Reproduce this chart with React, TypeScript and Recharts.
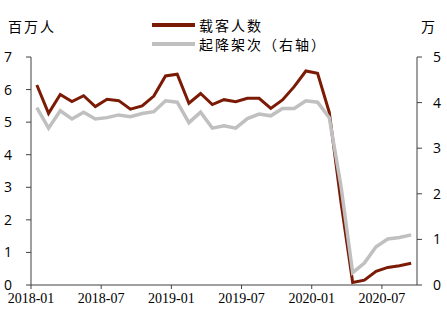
import { LineChart, Line, XAxis, YAxis } from "recharts";

// monthly, 2018-01 .. 2020-09
const months = [
  "2018-01", "2018-02", "2018-03", "2018-04", "2018-05", "2018-06",
  "2018-07", "2018-08", "2018-09", "2018-10", "2018-11", "2018-12",
  "2019-01", "2019-02", "2019-03", "2019-04", "2019-05", "2019-06",
  "2019-07", "2019-08", "2019-09", "2019-10", "2019-11", "2019-12",
  "2020-01", "2020-02", "2020-03", "2020-04", "2020-05", "2020-06",
  "2020-07", "2020-08", "2020-09",
];

// 载客人数, 百万人 (left axis)
const passengers = [
  6.14, 5.27, 5.85, 5.63, 5.81, 5.48, 5.70, 5.66, 5.40, 5.50, 5.80, 6.42,
  6.47, 5.58, 5.88, 5.54, 5.69, 5.63, 5.73, 5.73, 5.42, 5.68, 6.09, 6.57,
  6.50, 5.30, 2.55, 0.08, 0.15, 0.42, 0.54, 0.59, 0.67,
];

// 起降架次, 万 (right axis)
const flights = [
  3.89, 3.44, 3.82, 3.64, 3.79, 3.64, 3.67, 3.73, 3.69, 3.76, 3.80, 4.04,
  4.01, 3.56, 3.79, 3.44, 3.49, 3.44, 3.65, 3.75, 3.71, 3.87, 3.87, 4.04,
  4.01, 3.67, 2.17, 0.27, 0.48, 0.84, 1.01, 1.04, 1.10,
];

const xTickLabels = ["2018-01", "2018-07", "2019-01", "2019-07", "2020-01", "2020-07"];
const leftTicks = [0, 1, 2, 3, 4, 5, 6, 7];
const rightTicks = [0, 1, 2, 3, 4, 5];

const RED = "#7b1a05";
const GRAY = "#c0c0c0";
const AXIS = "#404040";
const CJK = "'Noto Sans CJK SC', sans-serif";

// points sit in the middle of each month, ticks on month boundaries
const data = months.map((m, i) => ({
  x: i + 0.5,
  month: m,
  passengers: passengers[i],
  flights: flights[i],
}));

const xTicks = xTickLabels.map((l) => months.indexOf(l));

export default function App() {
  const numTick = { fill: "#000", fontSize: 14, fontFamily: "'Open Sans', sans-serif" };

  return (
    <div style={{ position: "absolute", left: 0, top: 0, width: 447, height: 320, background: "#fff" }}>
      <LineChart
        width={447}
        height={320}
        data={data}
        margin={{ top: 57, right: 0, bottom: 0, left: 0 }}
      >
        <XAxis
          dataKey="x"
          type="number"
          domain={[0, months.length]}
          ticks={xTicks}
          tickFormatter={(v) => months[v] ?? ""}
          stroke={AXIS}
          tickSize={4}
          tickMargin={4}
          interval={0}
          height={35}
          tick={{ fill: "#000", fontSize: 14, fontFamily: "'Liberation Serif', serif" }}
        />
        <YAxis
          yAxisId="left"
          domain={[0, 7]}
          ticks={leftTicks}
          width={31}
          stroke={AXIS}
          tickSize={5}
          tickMargin={14}
          tick={numTick}
        />
        <YAxis
          yAxisId="right"
          orientation="right"
          domain={[0, 5]}
          ticks={rightTicks}
          width={30}
          stroke={AXIS}
          tickSize={5}
          tickMargin={11}
          tick={{ ...numTick, textAnchor: "start" }}
        />
        <Line
          yAxisId="left"
          dataKey="passengers"
          stroke={RED}
          strokeWidth={3}
          dot={false}
          type="linear"
          isAnimationActive={false}
        />
        <Line
          yAxisId="right"
          dataKey="flights"
          stroke={GRAY}
          strokeWidth={3.5}
          dot={false}
          type="linear"
          isAnimationActive={false}
        />
      </LineChart>

      {/* axis units */}
      <div style={{ position: "absolute", left: 8, top: 17, fontSize: 14, letterSpacing: 2, fontFamily: CJK, lineHeight: "18px" }}>
        百万人
      </div>
      <div style={{ position: "absolute", left: 421, top: 17, fontSize: 14, fontFamily: CJK, lineHeight: "18px" }}>
        万
      </div>

      {/* legend */}
      {[
        { label: "载客人数", color: RED, top: 16 },
        { label: "起降架次（右轴）", color: GRAY, top: 35 },
      ].map(({ label, color, top }) => (
        <div key={label} style={{ position: "absolute", left: 152, top, display: "flex", alignItems: "center", height: 18 }}>
          <span style={{ width: 43, height: 4, background: color, display: "block", marginRight: 4 }} />
          <span style={{ fontSize: 14, letterSpacing: 2, fontFamily: CJK, lineHeight: "18px" }}>{label}</span>
        </div>
      ))}
    </div>
  );
}
